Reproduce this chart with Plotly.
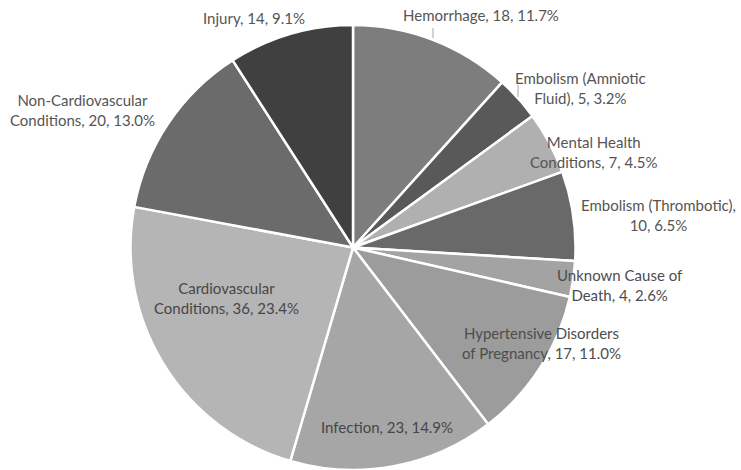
import plotly.graph_objects as go

# ---- data ----
causes = ["Hemorrhage", "Embolism (Amniotic Fluid)", "Mental Health Conditions",
          "Embolism (Thrombotic)", "Unknown Cause of Death",
          "Hypertensive Disorders of Pregnancy", "Infection",
          "Cardiovascular Conditions", "Non-Cardiovascular Conditions", "Injury"]
deaths = [18, 5, 7, 10, 4, 17, 23, 36, 20, 14]

# ---- styling ----
colors = ["#7d7d7d", "#595959", "#b0b0b0", "#696969", "#a3a3a3",
          "#9c9c9c", "#a6a6a6", "#b5b5b5", "#6b6b6b", "#404040"]
# words on first line of each label string (0 = single line)
first_line_words = [0, 2, 2, 2, 3, 2, 0, 1, 1, 0]
# label centres in pixels (x, y from top)
label_px = [(481, 15), (580, 88), (594, 152), (658, 215), (620, 285),
            (541, 343), (387, 427), (226, 298), (82, 110), (254, 18)]
text_colors = ["#555555", "#555555", "#555555", "#555555", "#4d4d4d",
               "#4d4d4d", "#474747", "#474747", "#555555", "#555555"]

W, H = 741, 470
total = sum(deaths)

fig = go.Figure(go.Pie(
    labels=causes, values=deaths, sort=False, direction="clockwise", rotation=0,
    marker=dict(colors=colors, line=dict(color="white", width=2.5)),
    textinfo="none", hoverinfo="label+value+percent",
    domain=dict(x=[130.5 / W, 575.5 / W], y=[0, 445 / H]),
    showlegend=False,
))

annotations = []
for name, v, n1, (px, py), tc in zip(causes, deaths, first_line_words, label_px, text_colors):
    full = f"{name}, {v}, {v / total * 100:.1f}%"
    words = full.split(" ")
    if n1:
        full = " ".join(words[:n1]) + "<br>" + " ".join(words[n1:])
    annotations.append(dict(
        x=px / W, y=1 - py / H, xref="paper", yref="paper", text=full,
        showarrow=False, xanchor="center", yanchor="middle", align="center",
        font=dict(family="Lato, 'Open Sans', sans-serif", size=15, color=tc),
    ))

leaders = [((433, 28), (433, 38)), ((518, 85), (518, 97))]
shapes = [dict(type="line", xref="paper", yref="paper",
               x0=a[0] / W, y0=1 - a[1] / H, x1=b[0] / W, y1=1 - b[1] / H,
               line=dict(color="#a6a6a6", width=1)) for a, b in leaders]

fig.update_layout(
    width=W, height=H, margin=dict(l=0, r=0, t=0, b=0),
    paper_bgcolor="white", plot_bgcolor="white",
    annotations=annotations, shapes=shapes,
)
fig.write_html("out.html", config={"displayModeBar": False},
               post_script="document.body.style.margin='0';document.body.style.padding='0';document.body.style.overflow='hidden';")
